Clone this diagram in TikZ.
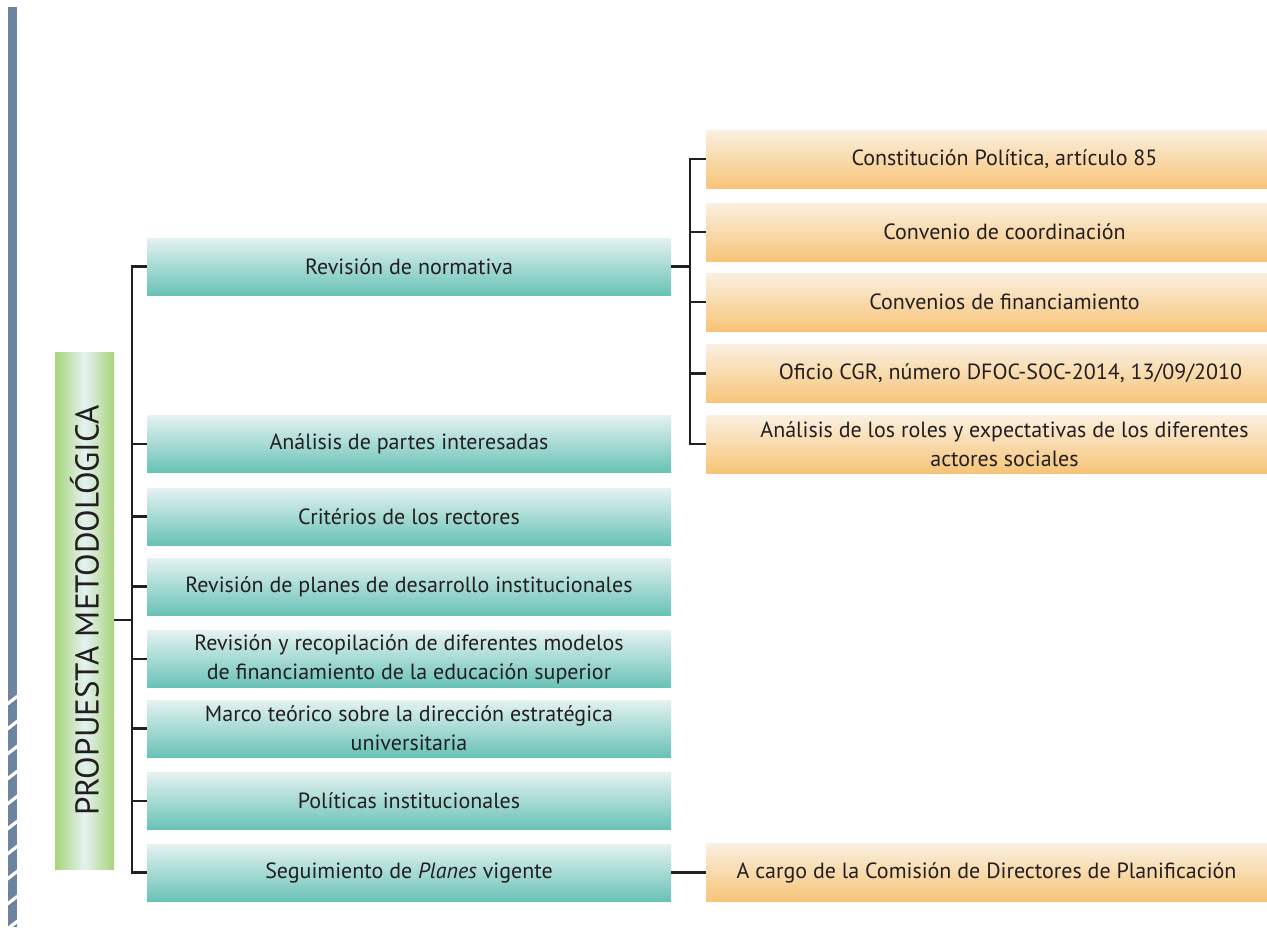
\documentclass[tikz,border=0pt]{standalone}
\usepackage{fontspec}
\setmainfont{PT Sans}
\usetikzlibrary{calc}

\definecolor{barblue}{HTML}{6C84A0}
\definecolor{tealtop}{HTML}{E4F2F1}
\definecolor{tealbot}{HTML}{68C2B6}
\definecolor{orgtop}{HTML}{FAF0E0}
\definecolor{orgbot}{HTML}{F7C478}
\definecolor{grnedge}{HTML}{A8D47A}
\definecolor{grnmid}{HTML}{E4F2F1}
\definecolor{linegray}{HTML}{231F20}

\begin{document}
\begin{tikzpicture}[x=0.5pt,y=-0.5pt,
		tealbox/.style={rectangle,inner sep=0pt,minimum width=262pt,minimum height=28.5pt,
			top color=tealtop,bottom color=tealbot,align=center,font=\fontsize{11}{14.5}\selectfont,text=linegray},
		orgbox/.style={rectangle,inner sep=0pt,minimum width=280.5pt,minimum height=29pt,
			top color=orgtop,bottom color=orgbot,align=center,font=\fontsize{11}{14.5}\selectfont,text=linegray},
		link/.style={draw=linegray,line width=1.1pt}]
		\useasboundingbox (0,0) rectangle (1267,927);
		% side bar
		\fill[barblue] (8,7) rectangle (17,927);
		\begin{scope}
		\clip (8,690) rectangle (17,927);
		\foreach \y in {697,722,...,922}
			\draw[white,line width=1.6pt] (6,\y+8) -- (19,\y-2);
		\end{scope}
		% main box
		\node[rectangle,inner sep=0pt,minimum width=29.5pt,minimum height=258.5pt,
			left color=grnedge,right color=grnedge,middle color=grnmid] (prop) at (84.5,610.5) {};
		\node[rotate=90,text=linegray,font=\fontsize{16.5}{18}\selectfont] at (prop) {PROPUESTA METODOLÓGICA};
		% left column
		\node[tealbox] (rn) at (409,266.5) {Revisión de normativa};
		\node[tealbox] (ap) at (409,444) {Análisis de partes interesadas};
		\node[tealbox] (cr) at (409,516.5) {Critérios de los rectores};
		\node[tealbox] (rp) at (409,586.5) {Revisión de planes de desarrollo institucionales};
		\node[tealbox] (rr) at (409,659) {Revisión y recopilación de diferentes modelos\\de financiamiento de la educación superior};
		\node[tealbox] (mt) at (409,728.5) {Marco teórico sobre la dirección estratégica\\universitaria};
		\node[tealbox] (pi) at (409,801) {Políticas institucionales};
		\node[tealbox] (sp) at (409,872.5) {Seguimiento de \textit{Planes} vigente};
		% right column
		\node[orgbox] (cp) at (986.5,159) {\hspace*{18pt}Constitución Política, artículo 85};
		\node[orgbox] (cc) at (986.5,232) {\hspace*{18pt}Convenio de coordinación};
		\node[orgbox] (cf) at (986.5,302) {\hspace*{18pt}Convenios de financiamiento};
		\node[orgbox] (oc) at (986.5,373.5) {\hspace*{24pt}Oficio CGR, número DFOC-SOC-2014, 13/09/2010};
		\node[orgbox] (ar) at (986.5,444) {\hspace*{18pt}Análisis de los roles y expectativas de los diferentes\\\hspace*{18pt}actores sociales};
		\node[orgbox] (ac) at (986.5,872.5) {A cargo de la Comisión de Directores de Planificación};
		% connectors
		\coordinate (t1) at (132,620);
		\coordinate (t2) at (690,266.5);
		\draw[link] (prop.east |- t1) -- (t1);
		\draw[link] (rn.west) -| (t1) |- (sp.west);
		\foreach \n in {ap,cr,rp,rr,mt,pi}
			\draw[link] (\n.west) -- (\n.west -| t1);
		\draw[link] (rn.east) -- (t2);
		\draw[link] (cp.west) -| (t2) |- (ar.west);
		\foreach \n in {cc,cf,oc}
			\draw[link] (\n.west) -- (\n.west -| t2);
		\draw[link] (sp.east) -- (ac.west);
\end{tikzpicture}
\end{document}
